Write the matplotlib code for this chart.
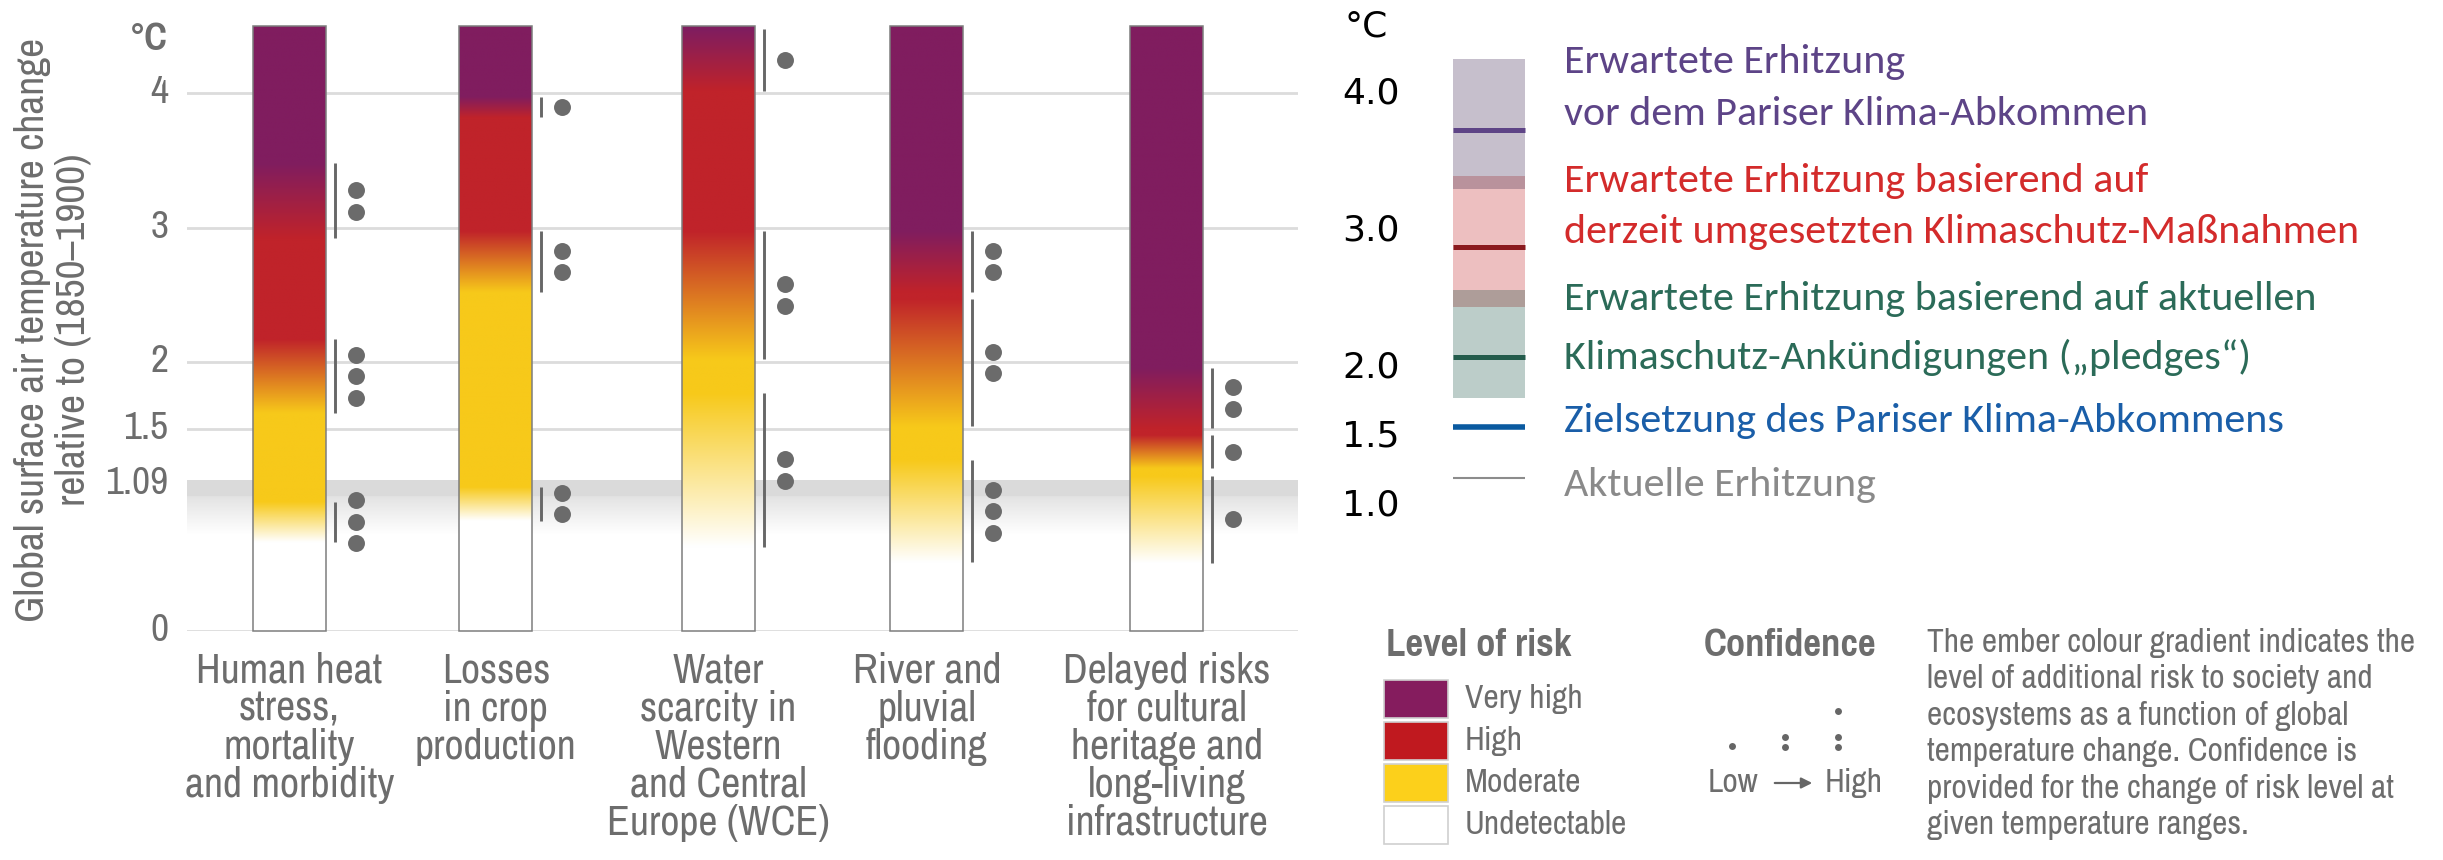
import numpy as np
import matplotlib
matplotlib.use("Agg")
import matplotlib.pyplot as plt
from matplotlib import font_manager
from matplotlib.patches import Rectangle, FancyArrowPatch
from matplotlib.colors import to_rgb
from matplotlib.transforms import ScaledTranslation

W, H, DPI = 2443, 860, 100


def _weight(w):
    return font_manager.weight_dict.get(w, 400) if isinstance(w, str) else int(w)


def first_font(candidates, bold=False):
    entries = font_manager.fontManager.ttflist
    for name in candidates:
        weights = [_weight(f.weight) for f in entries if f.name == name]
        if not weights:
            continue
        if bold and max(weights) < 600:
            continue
        return name
    return "DejaVu Sans"


NARROW = first_font(["Arial Narrow", "Liberation Sans Narrow", "Archivo Narrow",
                     "Pragati Narrow", "Roboto Condensed", "PT Sans Narrow",
                     "Liberation Sans"])
NARROW_BOLD = first_font(["Arial Narrow", "Liberation Sans Narrow", "Archivo Narrow",
                          "Pragati Narrow", "IBM Plex Sans Condensed",
                          "Roboto Condensed", "PT Sans Narrow", "Fira Sans Condensed",
                          "Liberation Sans"], bold=True)
GERMAN = first_font(["Calibri", "Carlito", "Lato", "Open Sans"])
GREY = "#6d6d6d"

# ---- ember chart data ----
categories = [
    "Human heat\nstress,\nmortality\nand morbidity",
    "Losses\nin crop\nproduction",
    "Water\nscarcity in\nWestern\nand Central\nEurope (WCE)",
    "River and\npluvial\nflooding",
    "Delayed risks\nfor cultural\nheritage and\nlong-living\ninfrastructure",
]
bar_pos = [0.92, 2.78, 4.78, 6.66, 8.82]

# risk transitions, bottom to top: (from °C, to °C, confidence dots)
heat_steps = [(0.66, 0.96, 3), (1.62, 2.17, 3), (2.92, 3.48, 2)]
crop_steps = [(0.82, 1.07, 2), (2.52, 2.975, 2), (3.82, 3.975, 1)]
water_steps = [(0.625, 1.767, 2), (2.02, 2.975, 2), (4.02, 4.476, 1)]
flood_steps = [(0.51, 1.27, 3), (1.52, 2.47, 2), (2.52, 2.975, 2)]
heritage_steps = [(0.506, 1.15, 1), (1.21, 1.457, 1), (1.506, 1.957, 2)]
all_steps = [heat_steps, crop_steps, water_steps, flood_steps, heritage_steps]

tick_vals = [0, 1.09, 1.5, 2, 3, 4]
tick_labels = ["0", "1.09", "1.5", "2", "3", "4"]
grid_vals = [0, 1.5, 2, 3, 4]
y_top = 4.5

# undetectable, moderate, high, very high
level_colors = ["#ffffff", "#f7c91a", "#c0232a", "#801d5f"]

# ---- warming scenario legend data ----
scale_vals = [4.0, 3.0, 2.0, 1.5, 1.0]
pre_paris = (3.30, 4.25, 3.73)
current_policy = (2.445, 3.40, 2.88)
pledges = (1.78, 2.57, 2.08)
paris_goal = 1.565
current_warming = 1.20

risk_names = ["Very high", "High", "Moderate", "Undetectable"]
risk_swatch = ["#851c5e", "#c0191f", "#fcd01b", "#ffffff"]

note_lines = [
    "The ember colour gradient indicates the",
    "level of additional risk to society and",
    "ecosystems as a function of global",
    "temperature change. Confidence is",
    "provided for the change of risk level at",
    "given temperature ranges.",
]


def ember_column(steps, y):
    levels = [np.array(to_rgb(c)) for c in level_colors]
    col = np.tile(levels[0], (len(y), 1))
    for k, (lo, hi, _) in enumerate(steps):
        t = np.clip((y - lo) / (hi - lo), 0, 1)[:, None]
        col = col * (1 - t) + levels[k + 1] * t
    return col[:, None, :]


fig = plt.figure(figsize=(W / DPI, H / DPI), dpi=DPI)
renderer = fig.canvas.get_renderer()


def fit_size(text, family, width_px, weight="normal"):
    """Font size (pt) at which `text` is `width_px` wide."""
    t = fig.text(0, 0, text, fontsize=20, family=family, fontweight=weight)
    w = t.get_window_extent(renderer=renderer).width
    t.remove()
    return 20 * width_px / w


cat_fs = fit_size("Human heat", NARROW, 187)
tick_fs = fit_size("1.09", NARROW, 63)
ylab_fs = fit_size("Global surface air temperature change", NARROW, 583)
deg_fs = fit_size("°C", NARROW_BOLD, 38, "bold")
note_fs = fit_size(note_lines[0], NARROW, 488)
head_fs = fit_size("Level of risk", NARROW_BOLD, 185, "bold")
key_fs = fit_size("Undetectable", NARROW, 162)
german_fs = fit_size("derzeit umgesetzten Klimaschutz-Maßnahmen", GERMAN, 794)

# main chart axes (pixel frame 187..1298 x, 26..631 y)
ax = fig.add_axes([187 / W, (H - 630.7) / H, 1111 / W, 604.6 / H])
ax.set_xlim(0, 10)
ax.set_ylim(0, y_top)
for s in ax.spines.values():
    s.set_visible(False)
ax.set_xticks([])
ax.set_yticks(tick_vals, tick_labels)
ax.tick_params(axis="y", length=0, pad=13.5, labelsize=tick_fs, labelcolor=GREY)
lift = ScaledTranslation(0, 0.04, fig.dpi_scale_trans)
for lbl in ax.get_yticklabels():
    lbl.set_family(NARROW)
    lbl.set_transform(lbl.get_transform() + lift)

for g in grid_vals:
    ax.axhline(g, color="#dcdcdc", lw=2.0, zorder=1)

# shaded band for observed warming
yb = np.linspace(0.72, 1.12, 200)
shade = np.where(yb >= 1.0, 0.855, 0.89 + 0.11 * (1.0 - yb) / 0.28)
shade = np.clip(shade, 0, 1)
ax.imshow(np.repeat(shade[:, None, None], 3, axis=2), extent=[0, 10, 0.72, 1.12],
          origin="lower", aspect="auto", interpolation="bilinear", zorder=0.5)

bar_w = 0.657
yy = np.linspace(0, y_top, 900)
for x, steps, label in zip(bar_pos, all_steps, categories):
    ax.imshow(ember_column(steps, yy), extent=[x - bar_w / 2, x + bar_w / 2, 0, y_top],
              origin="lower", aspect="auto", interpolation="bilinear", zorder=2)
    ax.add_patch(Rectangle((x - bar_w / 2, 0), bar_w, y_top, fill=False,
                           ec="#7d7d7d", lw=1.1, zorder=3, clip_on=False))
    lx = x + bar_w / 2 + 0.081
    dx = x + bar_w / 2 + 0.27
    for lo, hi, n in steps:
        ax.plot([lx, lx], [lo, hi], color="#676767", lw=2.1, solid_capstyle="butt",
                zorder=3, clip_on=False)
        mid = (lo + hi) / 2
        dots = mid + (np.arange(n) - (n - 1) / 2) * 0.16
        ax.plot([dx] * n, dots, "o", color="#6b6b6b", ms=12.2, mec="none", zorder=3,
                clip_on=False)
    ax.annotate(label, xy=(x, 0), xytext=(0, -15), textcoords="offset points",
                ha="center", va="top", fontsize=cat_fs, linespacing=1.0,
                family=NARROW, color=GREY)

ax.annotate("°C", xy=(0, 4.40), xycoords=ax.get_yaxis_transform(),
            xytext=(-13.5, 0), textcoords="offset points", ha="right", va="center",
            fontsize=deg_fs, fontweight="bold", family=NARROW_BOLD, color=GREY)

fig.text(53 / W, 1 - 330 / H,
         "Global surface air temperature change\nrelative to (1850\u20131900)",
         rotation=90, ha="center", va="center", multialignment="center",
         fontsize=ylab_fs, family=NARROW, color=GREY, linespacing=1.12)

# warming scenario legend (y in °C, x in pixels from 1340)
lax = fig.add_axes([1340 / W, (H - 505) / H, 1103 / W, 411.7 / H])
lax.set_xlim(0, 1103)
lax.set_ylim(1.0, 4.0)
lax.axis("off")

for v in scale_vals:
    lax.text(2, v, f"{v:.1f}", ha="left", va="center", fontsize=26,
             family="DejaVu Sans", color="black")
lax.text(5, 4.49, "°C", ha="left", va="center", fontsize=26,
         family="DejaVu Sans", color="black", clip_on=False)

bx0, bw = 113, 72
scenarios = [
    (pre_paris, "#c6bfcc", "#5e4486"),
    (current_policy, "#edbfc0", "#8b1a1e"),
    (pledges, "#bccdc9", "#245c4c"),
]
for (lo, hi, mid), fill, line in scenarios:
    lax.add_patch(Rectangle((bx0, lo), bw, hi - lo, fc=fill, ec="none", clip_on=False))
# overlapping parts of neighbouring ranges
overlap_fill = ["#b9929c", "#ae9d99"]
for a, b in [(0, 1), (1, 2)]:
    lo = max(scenarios[a][0][0], scenarios[b][0][0])
    hi = min(scenarios[a][0][1], scenarios[b][0][1])
    lax.add_patch(Rectangle((bx0, lo), bw, hi - lo, fc=overlap_fill[a], ec="none",
                            clip_on=False))
for (lo, hi, mid), fill, line in scenarios:
    lax.plot([bx0, bx0 + bw], [mid, mid], color=line, lw=3.6, solid_capstyle="butt",
             clip_on=False)
lax.plot([bx0, bx0 + bw], [paris_goal, paris_goal], color="#0a5aa0", lw=4.0,
         solid_capstyle="butt", clip_on=False)
lax.plot([bx0, bx0 + bw], [current_warming, current_warming], color="#8c8c8c", lw=1.5,
         solid_capstyle="butt", clip_on=False)

legend_text = [
    ("Erwartete Erhitzung", 4.228, "#5d4487"),
    ("vor dem Pariser Klima-Abkommen", 3.849, "#5d4487"),
    ("Erwartete Erhitzung basierend auf", 3.361, "#d32b2b"),
    ("derzeit umgesetzten Klimaschutz-Maßnahmen", 2.989, "#d32b2b"),
    ("Erwartete Erhitzung basierend auf aktuellen", 2.50, "#2b6b58"),
    ("Klimaschutz-Ankündigungen (\u201epledges\u201c)", 2.077, "#2b6b58"),
    ("Zielsetzung des Pariser Klima-Abkommens", 1.611, "#1a5ea8"),
    ("Aktuelle Erhitzung", 1.145, "#8a8a8a"),
]
for txt, yv, col in legend_text:
    lax.text(224, yv, txt, ha="left", va="center", fontsize=german_fs, family=GERMAN,
             color=col, clip_on=False)

# risk level / confidence key (pixel frame)
kax = fig.add_axes([1300 / W, 0, 1143 / W, 280 / H])
kax.set_xlim(1300, 2443)
kax.set_ylim(860, 580)
kax.axis("off")

kax.text(1386, 645, "Level of risk", ha="left", va="center", fontsize=head_fs,
         fontweight="bold", family=NARROW_BOLD, color=GREY)
for i, (name, col) in enumerate(zip(risk_names, risk_swatch)):
    top = 680 + i * 42
    kax.add_patch(Rectangle((1384, top), 64, 38, fc=col, ec="#d0d0d0", lw=1.2))
    kax.text(1465, top + 19, name, ha="left", va="center", fontsize=key_fs,
             family=NARROW, color=GREY)

kax.text(1704, 645, "Confidence", ha="left", va="center", fontsize=head_fs,
         fontweight="bold", family=NARROW_BOLD, color=GREY)
conf_dots = [[746], [737, 747], [711, 737, 747]]
for cx, ys in zip([1731.5, 1785, 1838], conf_dots):
    kax.plot([cx] * len(ys), ys, "o", color="#666666", ms=5, mec="none")
kax.text(1708, 783, "Low", ha="left", va="center", fontsize=key_fs, family=NARROW,
         color=GREY)
kax.text(1825, 783, "High", ha="left", va="center", fontsize=key_fs, family=NARROW,
         color=GREY)
kax.add_patch(FancyArrowPatch((1772, 783), (1815, 783), arrowstyle="-|>",
                              mutation_scale=16, lw=1.6, color="#666666"))

for i, line in enumerate(note_lines):
    kax.text(1927, 643 + i * 36.4, line, ha="left", va="center", fontsize=note_fs,
             family=NARROW, color=GREY)

fig.savefig("out.png", dpi=DPI)
